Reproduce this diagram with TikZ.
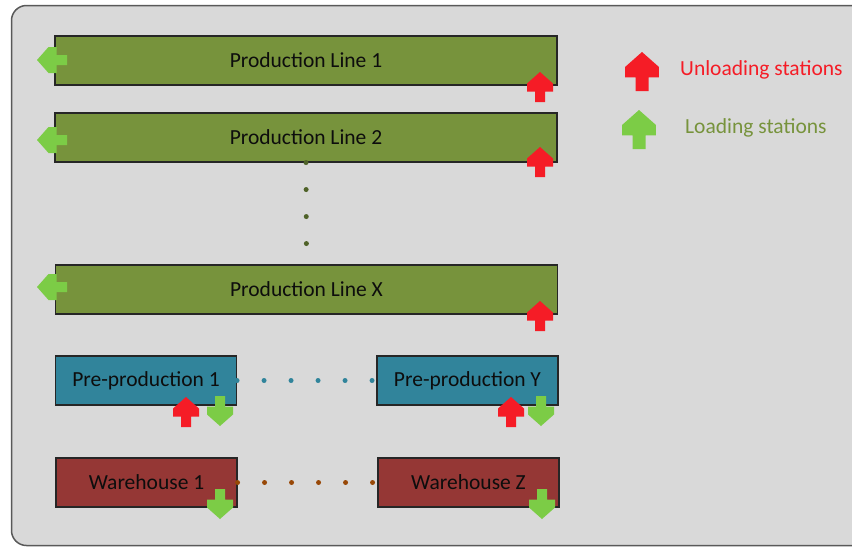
\documentclass[tikz,border=0pt]{standalone}
\usepackage{fontspec}
\setmainfont{Carlito}
\definecolor{panelgray}{RGB}{217,217,217}
\definecolor{paneledge}{RGB}{89,89,89}
\definecolor{lineolive}{RGB}{119,147,60}
\definecolor{darkolive}{RGB}{79,98,40}
\definecolor{preteal}{RGB}{49,132,155}
\definecolor{whred}{RGB}{149,55,53}
\definecolor{whdot}{RGB}{152,72,7}
\definecolor{unloadred}{RGB}{245,28,38}
\definecolor{loadgreen}{RGB}{124,204,70}
\definecolor{boxedge}{RGB}{38,38,38}
\begin{document}
\begin{tikzpicture}[x=1pt,y=-1pt,
  labelfont/.style={font=\fontsize{21.5}{24}\selectfont},
  stationbox/.style={draw=boxedge, line width=1.1pt, inner sep=0pt, labelfont, text=black!95},
  plbox/.style={stationbox, fill=lineolive, minimum width=502, minimum height=49},
  prebox/.style={stationbox, fill=preteal, minimum width=181, minimum height=49},
  whbox/.style={stationbox, fill=whred, minimum width=181, minimum height=49},
  dotrow/.style={line width=5pt, line cap=round, dash pattern=on 0pt off 27pt},
  blockarrow/.pic={
    \fill[pic actions] (0,0) -- (13,11.5) -- (13,19.5) -- (5,19.5) -- (5,30)
      -- (-5,30) -- (-5,19.5) -- (-13,19.5) -- (-13,11.5) -- cycle;
  },
  unload/.style={fill=unloadred},
  load/.style={fill=loadgreen}
]
\useasboundingbox (0,0) rectangle (852,547);
\fill[white] (0,0) rectangle (852,547);
% panel behind everything
\draw[fill=panelgray, draw=paneledge, line width=1.5pt, rounded corners=15pt]
  (11.5,5.5) rectangle (880,545.5);

% production lines
\node[plbox] (pl1) at (306,60.5) {Production Line 1};
\node[plbox] (pl2) at (306,137.5) {Production Line 2};
\node[plbox] (plx) at (306.5,289.5) {Production Line X};

% pre-production and warehouses
\node[prebox] (pre1) at (146,380.5) {Pre-production 1};
\node[prebox] (prey) at (467.5,380.5) {Pre-production Y};
\node[whbox] (wh1) at (146.5,482.5) {Warehouse 1};
\node[whbox] (whz) at (468.5,482.5) {Warehouse Z};

% ellipsis dots
\draw[dotrow, darkolive] (pl2.south) -- (plx.north);
\draw[dotrow, preteal] (pre1.east) -- (prey.west);
\draw[dotrow, whdot] (wh1.east) -- (whz.west);

% loading stations (green)
\pic[load, rotate=90] at (37,60) {blockarrow};
\pic[load, rotate=90] at (37,140) {blockarrow};
\pic[load, rotate=90] at (37,287) {blockarrow};
\pic[load, rotate=180] at (220,426) {blockarrow};
\pic[load, rotate=180] at (541,426) {blockarrow};
\pic[load, rotate=180] at (220,519) {blockarrow};
\pic[load, rotate=180] at (542,519) {blockarrow};

% unloading stations (red)
\pic[unload] at (540,72) {blockarrow};
\pic[unload] at (540,147) {blockarrow};
\pic[unload] at (540,301) {blockarrow};
\pic[unload] at (186,397) {blockarrow};
\pic[unload] at (511,397) {blockarrow};

% legend
\pic[unload, scale=1.3] at (642,52) {blockarrow};
\pic[load, scale=1.3] at (639,110) {blockarrow};
\node[labelfont, text=unloadred, anchor=west, inner sep=0pt] (legun) at (680,70) {Unloading stations};
\node[labelfont, text=lineolive, anchor=west, inner sep=0pt] (legld) at (685,128) {Loading stations};
\end{tikzpicture}
\end{document}
